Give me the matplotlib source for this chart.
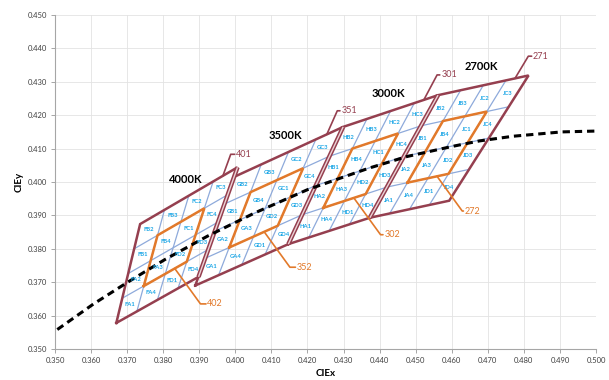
"""
ANSI chromaticity quadrangles with sub-bins (4000K .. 2700K) on CIE x,y.
"""

import numpy as np
import matplotlib.pyplot as plt
from matplotlib.ticker import MultipleLocator, FormatStrFormatter

plt.rcParams['font.family'] = ['Lato', 'DejaVu Sans']

# ── DATA ──────────────────────────────────────────────────────
CCT_NAMES = ['4000K', '3500K', '3000K', '2700K']
BIN_PREFIX = ['F', 'G', 'H', 'J']
OUTER_CODES = ['401', '351', '301', '271']
INNER_CODES = ['402', '352', '302', '272']

# quadrangle corners, order: bottom-left, bottom-right, top-right, top-left
q4000_x = [0.3670, 0.3898, 0.4006, 0.3736]
q4000_y = [0.3578, 0.3716, 0.4044, 0.3874]
q3500_x = [0.3889, 0.4147, 0.4299, 0.3996]
q3500_y = [0.3690, 0.3814, 0.4165, 0.4015]
q3000_x = [0.4147, 0.4373, 0.4562, 0.4299]
q3000_y = [0.3814, 0.3893, 0.4260, 0.4165]
q2700_x = [0.4373, 0.4593, 0.4813, 0.4562]
q2700_y = [0.3893, 0.3944, 0.4319, 0.4260]

# sub-bin codes, rows bottom -> top, columns left -> right
cell_codes = [['A1', 'A4', 'D1', 'D4'],
              ['A2', 'A3', 'D2', 'D3'],
              ['B1', 'B4', 'C1', 'C4'],
              ['B2', 'B3', 'C2', 'C3']]

# black body locus
locus_x = [0.3451, 0.3607, 0.3700, 0.3805, 0.3923, 0.4053, 0.4200,
           0.4369, 0.4475, 0.4599, 0.4677, 0.4770, 0.4905, 0.5018]
locus_y = [0.3516, 0.3635, 0.3699, 0.3768, 0.3838, 0.3907, 0.3977,
           0.4041, 0.4076, 0.4106, 0.4123, 0.4137, 0.4150, 0.4153]

QUADS = [(q4000_x, q4000_y), (q3500_x, q3500_y),
         (q3000_x, q3000_y), (q2700_x, q2700_y)]

# ── STYLE ─────────────────────────────────────────────────────
MAROON = '#953f4f'
ORANGE = '#e2792a'
GRIDBLUE = '#8eaadb'
CELLTXT = '#1ba6e6'
OUTER_OFFSETS = [(9.5, 15.5), (10.5, 17), (12.5, 18), (13, 16)]
OUTER_ANGLES = [70, 66, 62, 59]
INNER_OFFSETS = [(23.5, -25.5), (23.5, -25.5), (22, -26.5), (20, -25)]


def qpt(qx, qy, u, v):
    """bilinear point inside quad: u left->right, v bottom->top"""
    bx = qx[0] + u * (qx[1] - qx[0])
    by = qy[0] + u * (qy[1] - qy[0])
    tx = qx[3] + u * (qx[2] - qx[3])
    ty = qy[3] + u * (qy[2] - qy[3])
    return bx + v * (tx - bx), by + v * (ty - by)


fig = plt.figure(figsize=(6.09, 3.80), dpi=100)
ax = fig.add_axes([55 / 609, 31 / 380, 541 / 609, 334 / 380])

for i, (qx, qy) in enumerate(QUADS):
    # sub-bin grid
    for f in (0.25, 0.5, 0.75):
        p0, p1 = qpt(qx, qy, f, 0), qpt(qx, qy, f, 1)
        ax.plot([p0[0], p1[0]], [p0[1], p1[1]], color=GRIDBLUE, lw=0.9, zorder=2)
        p0, p1 = qpt(qx, qy, 0, f), qpt(qx, qy, 1, f)
        ax.plot([p0[0], p1[0]], [p0[1], p1[1]], color=GRIDBLUE, lw=0.9, zorder=2)

    # cell labels
    for r in range(4):
        for c in range(4):
            cx, cy = qpt(qx, qy, (c + 0.5) / 4, (r + 0.5) / 4)
            ax.text(cx, cy, BIN_PREFIX[i] + cell_codes[r][c], fontsize=4.2,
                    fontweight='bold', color=CELLTXT, ha='center', va='center',
                    zorder=6)

    # inner (orange) quad
    inner = [qpt(qx, qy, u, v) for u, v in
             [(0.25, 0.25), (0.75, 0.25), (0.75, 0.75), (0.25, 0.75), (0.25, 0.25)]]
    ax.plot([p[0] for p in inner], [p[1] for p in inner], color=ORANGE,
            lw=1.8, solid_joinstyle='miter', zorder=3)

    # outer quad
    ax.plot(qx + qx[:1], qy + qy[:1], color=MAROON, lw=1.8,
            solid_joinstyle='miter', zorder=4)

    # CCT name above the top edge
    tx, ty = qpt(qx, qy, 0.45, 1)
    ax.annotate(CCT_NAMES[i], (tx, ty), xytext=(1.5, 14), textcoords='offset points',
                ha='center', va='center', fontsize=8, fontweight='bold',
                color='black', zorder=7)

    # leader for outer code
    ax_, ay_ = qpt(qx, qy, 0.85, 1)
    ax.annotate(OUTER_CODES[i], (ax_, ay_), xytext=OUTER_OFFSETS[i],
                textcoords='offset points', ha='left', va='center',
                fontsize=6.5, color=MAROON, zorder=7,
                arrowprops=dict(arrowstyle='-', color=MAROON, lw=1.2,
                                connectionstyle=f'angle,angleA=0,angleB={OUTER_ANGLES[i]},rad=0',
                                patchA=None, shrinkA=1, shrinkB=0, relpos=(0, 0.5)))

    # leader for inner code
    bx_, by_ = qpt(qx, qy, 0.25 + 0.5 * 0.72, 0.25)
    ax.annotate(INNER_CODES[i], (bx_, by_), xytext=INNER_OFFSETS[i],
                textcoords='offset points', ha='left', va='center',
                fontsize=6.5, color=ORANGE, zorder=7,
                arrowprops=dict(arrowstyle='-', color=ORANGE, lw=1.2,
                                connectionstyle='angle,angleA=0,angleB=-54,rad=0',
                                patchA=None, shrinkA=1, shrinkB=0, relpos=(0, 0.5)))

# shared boundaries look like double lines
for i in range(3):
    qx, qy = QUADS[i]
    ax.plot([qx[1], qx[2]], [qy[1], qy[2]], color=MAROON, lw=3.2,
            solid_capstyle='butt', zorder=4.5)
    ax.plot([qx[1], qx[2]], [qy[1], qy[2]], color='#ecd3d6', lw=1.0,
            solid_capstyle='butt', zorder=4.6)

# black body locus
ax.plot(locus_x, locus_y, color='black', lw=2.2, ls=(0, (2.4, 1.6)), zorder=5)

# ── AXES ──────────────────────────────────────────────────────
ax.set_xlim(0.35, 0.50)
ax.set_ylim(0.35, 0.45)
ax.xaxis.set_major_locator(MultipleLocator(0.01))
ax.yaxis.set_major_locator(MultipleLocator(0.01))
ax.xaxis.set_major_formatter(FormatStrFormatter('%.3f'))
ax.yaxis.set_major_formatter(FormatStrFormatter('%.3f'))
ax.grid(color='#e3e3e3', lw=0.6, zorder=0)
ax.set_axisbelow(True)
for s in ('top', 'right'):
    ax.spines[s].set_visible(False)
for s in ('left', 'bottom'):
    ax.spines[s].set_color('#a6a6a6')
    ax.spines[s].set_linewidth(0.8)
ax.tick_params(labelsize=5.5, labelcolor='#404040', color='#a6a6a6',
               length=3, width=0.7, pad=3)
ax.set_xlabel('CIEx', fontsize=7, fontweight='bold', labelpad=3)
ax.set_ylabel('CIEy', fontsize=7, fontweight='bold', labelpad=3)

fig.savefig('out.png', dpi=100)
